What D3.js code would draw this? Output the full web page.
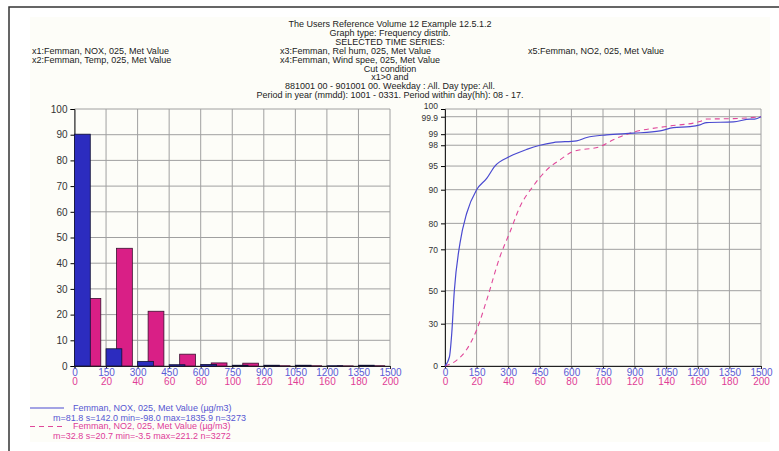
<!DOCTYPE html>
<html>
<head>
<meta charset="utf-8">
<script src="https://cdn.jsdelivr.net/npm/d3@7"></script>
<style>
  body { margin: 0; background: #fff; }
  svg { display: block; font-family: "Liberation Sans", Arial, sans-serif; }
</style>
</head>
<body>
<div id="chart"></div>
<script>
// --- data ---
const titleLines = [
  "The Users Reference Volume 12 Example 12.5.1.2",
  "Graph type: Frequency distrib.",
  "SELECTED TIME SERIES:"
];
const seriesLabels = [
  ["x1:Femman, NOX, 025, Met Value", "x3:Femman, Rel hum, 025, Met Value", "x5:Femman, NO2, 025, Met Value"],
  ["x2:Femman, Temp, 025, Met Value", "x4:Femman, Wind spee, 025, Met Value", ""]
];
const conditionLines = [
  "Cut condition",
  "x1>0 and",
  "881001 00 - 901001 00. Weekday : All. Day type: All.",
  "Period in year (mmdd): 1001 - 0331. Period within day(hh): 08 - 17."
];

const noxTicks = [0, 150, 300, 450, 600, 750, 900, 1050, 1200, 1350, 1500];
const no2Ticks = [0, 20, 40, 60, 80, 100, 120, 140, 160, 180, 200];
const freqTicks = [0, 10, 20, 30, 40, 50, 60, 70, 80, 90, 100];
const pctTicks = [0, 30, 50, 70, 80, 90, 95, 98, 99, 99.9, 100];

// histogram bins (bin start) and frequency %
const noxBins = [0, 150, 300, 450, 600, 750, 900, 1050, 1200, 1350];
const noxFreq = [90.2, 6.7, 1.8, 0.5, 0.6, 0.3, 0.3, 0.3, 0.1, 0.3];
const no2Bins = [0, 20, 40, 60, 80, 100, 120, 140, 160, 180];
const no2Freq = [26.3, 45.8, 21.3, 4.6, 1.2, 1.1, 0.1, 0.1, 0.05, 0.1];

// cumulative distribution (value, percentile)
const noxCumX = [0, 21, 32, 44, 71, 103, 150, 198, 237, 309, 388, 451, 514, 625, 673, 767, 894, 1021, 1084, 1163, 1210, 1242, 1369, 1448, 1470, 1500];
const noxCumP = [0, 6.4, 23, 49.5, 72.3, 83, 90, 92.4, 95, 96.4, 97.4, 98, 98.24, 98.4, 98.7, 98.94, 99.05, 99.17, 99.34, 99.39, 99.48, 99.6, 99.63, 99.78, 99.78, 99.9];
const no2CumX = [0, 7.3, 13.7, 20, 26.4, 34.8, 41.2, 47.5, 55.9, 64.4, 72.8, 81.2, 98.1, 106.5, 119.2, 140.3, 161.3, 165.6, 182.5, 200];
const no2CumP = [0, 4, 11.7, 25.5, 44.3, 66.5, 76.8, 85, 90.8, 94.2, 95.9, 97.1, 97.8, 98.5, 99.1, 99.4, 99.65, 99.78, 99.8, 99.9];

const legendItems = [
  { name: "Femman, NOX, 025, Met Value (\u00b5g/m3)", stats: "m=81.8 s=142.0 min=-98.0 max=1835.9 n=3273", color: "#4a4ad0", text: "#5656d2", dash: null },
  { name: "Femman, NO2, 025, Met Value (\u00b5g/m3)", stats: "m=32.8 s=20.7 min=-3.5 max=221.2 n=3272", color: "#e0489a", text: "#de3c98", dash: "5,4" }
];

// --- drawing ---
const width = 779, height = 451;
const blueTxt = "#5a5ad6", pinkTxt = "#e03c96";
const barBlue = "#2c2cbf", barPink = "#d91f86";

const svg = d3.select("#chart").append("svg")
  .attr("width", width).attr("height", height);

svg.append("rect").attr("width", width).attr("height", height).attr("fill", "#fff");
svg.append("rect").attr("x", 30).attr("y", 17).attr("width", 740).attr("height", 425).attr("fill", "#fdfdf8");
svg.append("path").attr("d", `M9,${height}V7H${width}`).attr("fill", "none")
  .attr("stroke", "#333").attr("stroke-width", 1.5);

// header text
const head = svg.append("g").attr("font-size", 9).attr("fill", "#222");
titleLines.forEach((t, i) => head.append("text").attr("x", 390).attr("y", 27 + i * 8.9)
  .attr("text-anchor", "middle").text(t));
const colX = [32, 280, 528];
seriesLabels.forEach((row, r) => row.forEach((t, c) => head.append("text")
  .attr("x", colX[c]).attr("y", 53.7 + r * 8.9).text(t)));
conditionLines.forEach((t, i) => head.append("text").attr("x", 390).attr("y", 71.5 + i * 8.9)
  .attr("text-anchor", "middle").text(t));

const plotTop = 109, plotBottom = 366;

function frame(g, x0, x1, y, yTicks, yFmt, ySize) {
  // gridlines
  g.append("g").selectAll("line").data(yTicks).join("line")
    .attr("x1", x0).attr("x2", x1).attr("y1", d => y(d)).attr("y2", d => y(d))
    .attr("stroke", "#a0a0a0");
  const xb = d3.scaleLinear().domain([0, 1500]).range([x0, x1]);
  g.append("g").selectAll("line").data(noxTicks).join("line")
    .attr("x1", d => xb(d)).attr("x2", d => xb(d)).attr("y1", plotTop).attr("y2", plotBottom)
    .attr("stroke", "#a0a0a0");
  // axes
  const ya = g.append("g").attr("transform", `translate(${x0},0)`)
    .call(d3.axisLeft(y).tickValues(yTicks).tickFormat(yFmt).tickSize(4).tickPadding(3));
  ya.select(".domain").attr("stroke", "#222");
  ya.selectAll("text").attr("font-size", ySize).attr("fill", "#333").attr("font-family", "Liberation Sans, Arial");
  const xa = g.append("g").attr("transform", `translate(0,${plotBottom})`)
    .call(d3.axisBottom(xb).tickValues(noxTicks).tickFormat(d3.format("d")).tickSize(3));
  xa.select(".domain").attr("stroke", "#222");
  xa.selectAll("line").attr("stroke", "#222");
  xa.selectAll("text").attr("font-size", 10).attr("fill", blueTxt)
    .attr("y", 9.5).attr("dy", null).attr("font-family", "Liberation Sans, Arial");
  const xp = d3.scaleLinear().domain([0, 200]).range([x0, x1]);
  const xa2 = g.append("g").attr("transform", `translate(0,${plotBottom})`)
    .call(d3.axisBottom(xp).tickValues(no2Ticks).tickFormat(d3.format("d")).tickSize(0));
  xa2.select(".domain").remove();
  xa2.selectAll("text").attr("font-size", 10).attr("fill", pinkTxt)
    .attr("y", 19).attr("dy", null).attr("font-family", "Liberation Sans, Arial");
  return { xb, xp, ya };
}

// left: histogram
const L0 = 74.5, L1 = 390;
const yFreq = d3.scaleLinear().domain([0, 100]).range([plotBottom, plotTop]);
const gl = svg.append("g");
const { xb: xbL, xp: xpL } = frame(gl, L0, L1, yFreq, freqTicks, d3.format("d"), 10);

gl.append("g").selectAll("rect").data(no2Bins).join("rect")
  .attr("x", d => xpL(d + 20 / 3))
  .attr("width", xpL(10) - xpL(0))
  .attr("y", (d, i) => yFreq(no2Freq[i]))
  .attr("height", (d, i) => yFreq(0) - yFreq(no2Freq[i]))
  .attr("fill", barPink).attr("stroke", "#3a1030").attr("stroke-width", 0.8);

gl.append("g").selectAll("rect").data(noxBins).join("rect")
  .attr("x", d => xbL(d))
  .attr("width", xbL(75) - xbL(0))
  .attr("y", (d, i) => yFreq(noxFreq[i]))
  .attr("height", (d, i) => yFreq(0) - yFreq(noxFreq[i]))
  .attr("fill", barBlue).attr("stroke", "#111133").attr("stroke-width", 0.8);

// right: cumulative on probability-like scale
const R0 = 445, R1 = 761;
const pctFrac = [0, 0.1646, 0.293, 0.454, 0.555, 0.686, 0.778, 0.859, 0.902, 0.970, 1];
const yPct = d3.scaleLinear().domain(pctTicks).range(pctFrac.map(f => plotBottom - f * (plotBottom - plotTop)));
const gr = svg.append("g");
const { xb: xbR, xp: xpR, ya: yaR } = frame(gr, R0, R1, yPct, pctTicks, d => String(d), 8.5);
// the two top labels sit very close; nudge them apart a little
yaR.selectAll(".tick text").filter(d => d === 100).attr("dy", "-0.05em");
yaR.selectAll(".tick text").filter(d => d === 99.9).attr("dy", "0.5em");

gr.append("path")
  .datum(no2CumX.map((x, i) => [x, no2CumP[i]]))
  .attr("d", d3.line().x(d => xpR(d[0])).y(d => yPct(d[1])).curve(d3.curveMonotoneX))
  .attr("fill", "none").attr("stroke", "#e0489a").attr("stroke-width", 1.1).attr("stroke-dasharray", "5,4");

gr.append("path")
  .datum(noxCumX.map((x, i) => [x, noxCumP[i]]))
  .attr("d", d3.line().x(d => xbR(d[0])).y(d => yPct(d[1])).curve(d3.curveMonotoneX))
  .attr("fill", "none").attr("stroke", "#4a4ad0").attr("stroke-width", 1.2);

// legend
const lg = svg.append("g").attr("font-size", 9);
legendItems.forEach((it, i) => {
  const y = 408 + i * 18.5;
  lg.append("line").attr("x1", 30).attr("x2", 64).attr("y1", y).attr("y2", y)
    .attr("stroke", it.color).attr("stroke-width", 1.1).attr("stroke-dasharray", it.dash);
  lg.append("text").attr("x", 73).attr("y", y + 2.5).attr("fill", it.text).text(it.name);
  lg.append("text").attr("x", 53).attr("y", y + 12.5).attr("fill", it.text).text(it.stats);
});
</script>
</body>
</html>
